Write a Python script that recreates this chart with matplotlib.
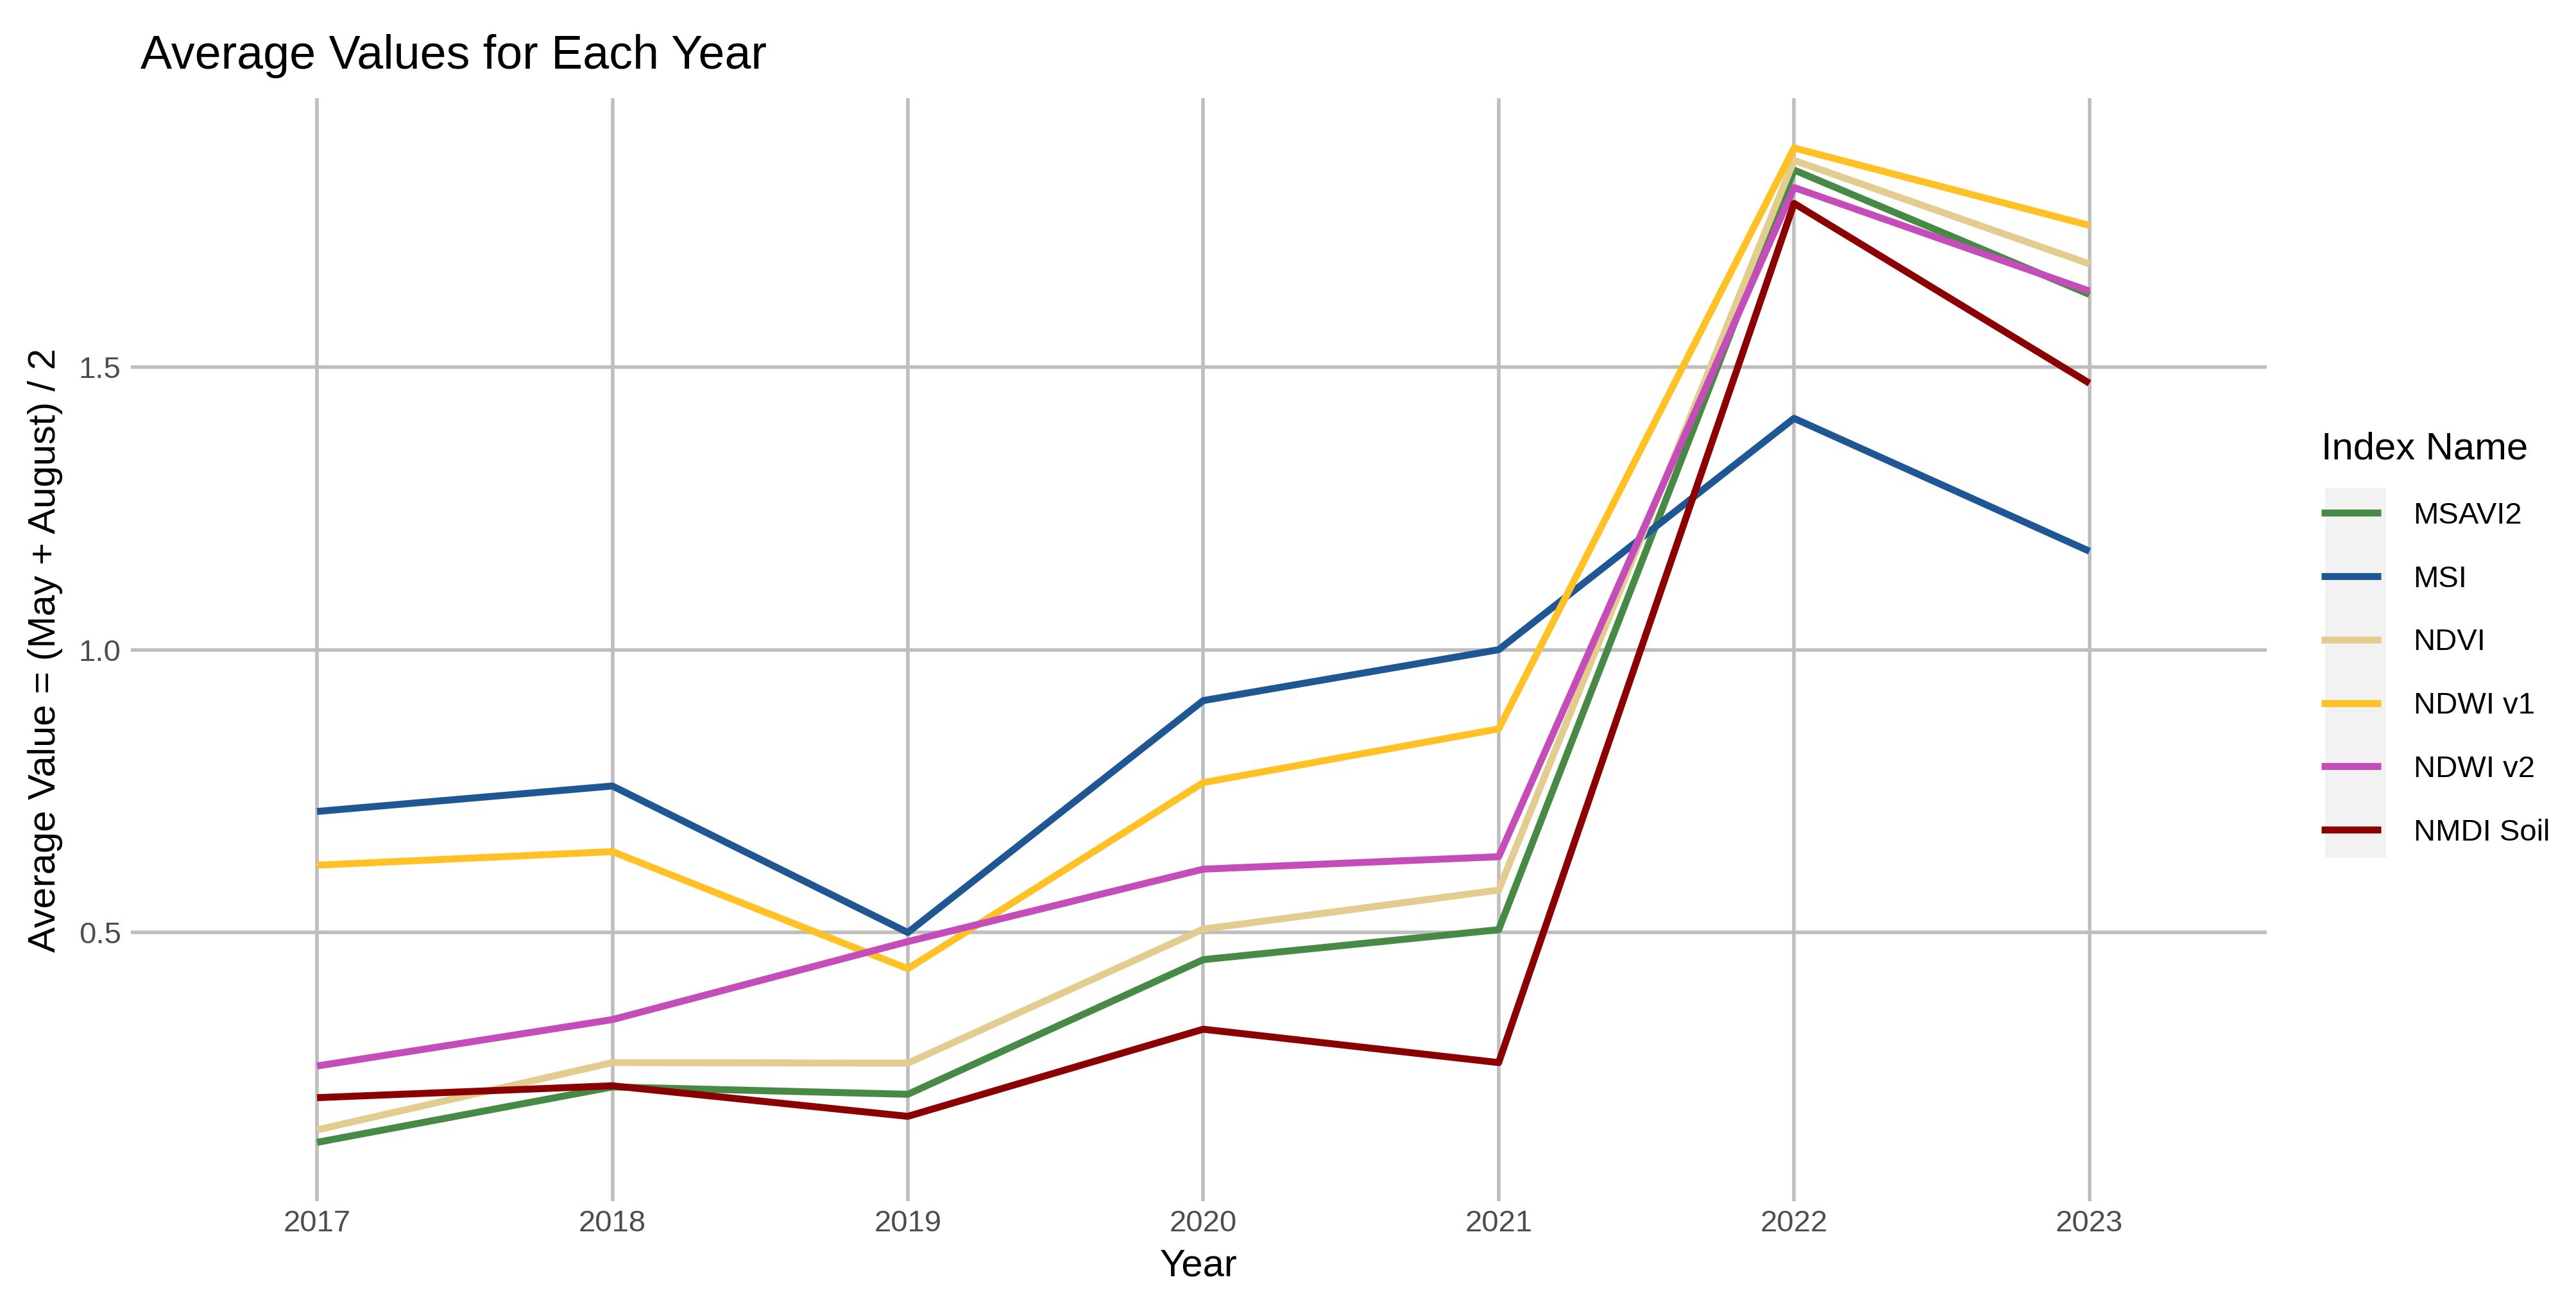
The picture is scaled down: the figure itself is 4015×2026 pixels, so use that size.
import matplotlib
matplotlib.use("Agg")
import matplotlib.pyplot as plt
from matplotlib.patches import Rectangle

plt.rcParams['font.family'] = ['Liberation Sans', 'DejaVu Sans']

years = [2017, 2018, 2019, 2020, 2021, 2022, 2023]
index_names = ["MSAVI2", "MSI", "NDVI", "NDWI v1", "NDWI v2", "NMDI Soil"]
msavi2 = [0.129, 0.227, 0.214, 0.452, 0.505, 1.848, 1.628]
msi = [0.714, 0.759, 0.500, 0.910, 1.000, 1.409, 1.174]
ndvi = [0.151, 0.270, 0.269, 0.506, 0.575, 1.865, 1.682]
ndwi_v1 = [0.619, 0.643, 0.436, 0.765, 0.860, 1.887, 1.750]
ndwi_v2 = [0.264, 0.346, 0.484, 0.612, 0.634, 1.817, 1.634]
nmdi_soil = [0.208, 0.229, 0.175, 0.329, 0.270, 1.789, 1.471]
y_ticks = [0.5, 1.0, 1.5]

series = [msavi2, msi, ndvi, ndwi_v1, ndwi_v2, nmdi_soil]
colors = ["#468A45", "#1F5794", "#E3CC8F", "#FFC125", "#C44DB9", "#8B0000"]

W, H = 4015, 2026
fig = plt.figure(figsize=(W / 200, H / 200), dpi=200)
ax = fig.add_axes([204 / W, 1 - 1872 / H, (3533 - 204) / W, (1872 - 153) / H])

for name, vals, c in zip(index_names, series, colors):
    ax.plot(years, vals, color=c, lw=3.9, label=name, solid_capstyle='butt')

ax.set_xlim(2016.37, 2023.6)
ax.set_ylim(0.025, 1.975)
ax.set_xticks(years)
ax.set_xticklabels([str(y) for y in years])
ax.set_yticks(y_ticks)
ax.set_yticklabels(["0.5", "1.0", "1.5"])
ax.grid(True, color="#BEBEBE", lw=2.0)
ax.set_axisbelow(True)
for s in ax.spines.values():
    s.set_visible(False)
ax.tick_params(length=0, labelsize=17, labelcolor="#4D4D4D")
ax.tick_params(axis='y', pad=5.5)
ax.tick_params(axis='x', pad=4.5)

fig.text(219 / W, 1 - 107 / H, "Average Values for Each Year", fontsize=26.5,
         ha='left', va='baseline')
fig.text(1868 / W, 1 - 1988 / H, "Year", fontsize=21.5, ha='center', va='baseline')
fig.text(71 / W, 0.5, "Average Value = (May + August) / 2", fontsize=21.5,
         rotation=90, ha='center', va='center')

# grey background behind the legend keys
fig.patches.append(Rectangle((3624 / W, 1 - 1337 / H), 95 / W, 577 / H,
                             transform=fig.transFigure, facecolor="#F2F2F2",
                             edgecolor='none', zorder=1))

leg = fig.legend(loc='upper left', bbox_to_anchor=(3618 / W, 1 - 672 / H),
                 title="Index Name", fontsize=17, title_fontsize=21.5,
                 frameon=False, handlelength=1.97, handletextpad=1.07,
                 labelspacing=1.16, borderpad=0, borderaxespad=0,
                 alignment='left')
for line in leg.get_lines():
    line.set_linewidth(3.9)

fig.savefig("out.png", dpi=200)
